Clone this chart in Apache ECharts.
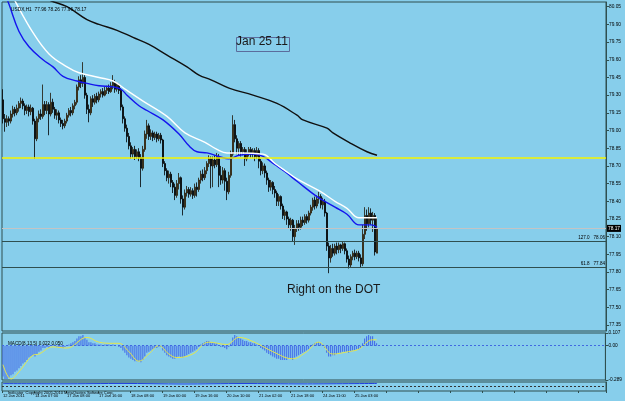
<!DOCTYPE html>
<html>
<head>
<meta charset="utf-8">
<script src="https://cdn.jsdelivr.net/npm/echarts@6/dist/echarts.min.js"></script>
<style>
  html, body { margin: 0; padding: 0; background: #87ceeb; }
  #chart { width: 625px; height: 401px; }
</style>
</head>
<body>
<div id="chart"></div>
<script>
// time labels, one every 16 bars
const timeLabels = ["12 Jan 2011", "14 Jan 07:00", "17 Jan 08:00", "17 Jan 16:00", "18 Jan 08:00", "19 Jan 00:00",
    "19 Jan 16:00", "20 Jan 10:00", "21 Jan 02:00", "21 Jan 18:00", "24 Jan 11:00", "25 Jan 03:00"];
const slotCount = 302;

const priceTicks = [80.05, 79.90, 79.75, 79.60, 79.45, 79.30, 79.15, 79.00, 78.85, 78.70,
    78.55, 78.40, 78.25, 78.10, 77.95, 77.80, 77.65, 77.50, 77.35];
const macdTicks = [0.107, 0, -0.289];
const macdTickText = ["0.107", "0.00", "-0.289"];

// [open, close, low, high]
const candles = [
    [79.26, 79.10, 79.06, 79.35], [79.10, 79.07, 78.99, 79.14], [79.07, 79.10, 79.03, 79.13], [79.10, 79.08, 79.04, 79.12],
    [79.08, 79.14, 79.06, 79.17], [79.14, 79.18, 79.11, 79.21], [79.18, 79.15, 79.12, 79.20], [79.15, 79.19, 79.13, 79.22],
    [79.19, 79.23, 79.16, 79.25], [79.23, 79.25, 79.19, 79.28], [79.25, 79.21, 79.18, 79.27], [79.21, 79.17, 79.13, 79.23],
    [79.17, 79.20, 79.14, 79.22], [79.20, 79.16, 79.12, 79.22], [79.16, 79.19, 79.13, 79.22], [79.19, 79.08, 79.05, 79.20],
    [79.08, 78.93, 78.76, 79.10], [78.93, 79.10, 78.91, 79.12], [79.10, 79.14, 79.07, 79.17], [79.14, 79.12, 79.09, 79.18],
    [79.12, 79.22, 79.10, 79.39], [79.22, 79.17, 79.13, 79.25], [79.17, 79.22, 79.14, 79.25], [79.22, 79.14, 78.96, 79.24],
    [79.14, 79.24, 79.12, 79.32], [79.24, 79.18, 79.15, 79.27], [79.18, 79.13, 79.10, 79.20], [79.13, 79.15, 79.09, 79.18],
    [79.15, 79.09, 79.06, 79.17], [79.09, 79.06, 79.03, 79.11], [79.06, 79.04, 79.01, 79.09], [79.04, 79.08, 79.02, 79.10],
    [79.08, 79.13, 79.06, 79.15], [79.13, 79.17, 79.11, 79.19], [79.17, 79.15, 79.12, 79.20], [79.15, 79.21, 79.13, 79.23],
    [79.21, 79.24, 79.18, 79.26], [79.24, 79.37, 79.22, 79.39], [79.37, 79.43, 79.34, 79.46], [79.43, 79.40, 79.36, 79.47],
    [79.40, 79.45, 79.37, 79.58], [79.45, 79.30, 79.27, 79.47], [79.30, 79.18, 79.14, 79.32], [79.18, 79.15, 79.07, 79.22],
    [79.15, 79.27, 79.13, 79.29], [79.27, 79.24, 79.20, 79.30], [79.24, 79.29, 79.22, 79.31], [79.29, 79.26, 79.23, 79.32],
    [79.26, 79.31, 79.24, 79.33], [79.31, 79.33, 79.28, 79.35], [79.33, 79.30, 79.28, 79.36], [79.30, 79.34, 79.29, 79.37],
    [79.34, 79.36, 79.31, 79.38], [79.36, 79.33, 79.31, 79.39], [79.33, 79.38, 79.32, 79.41], [79.38, 79.41, 79.35, 79.47],
    [79.41, 79.35, 79.32, 79.43], [79.35, 79.39, 79.33, 79.41], [79.39, 79.34, 79.31, 79.40], [79.34, 79.20, 79.17, 79.36],
    [79.20, 79.10, 79.06, 79.22], [79.10, 79.02, 78.99, 79.12], [79.02, 78.95, 78.90, 79.05], [78.95, 78.87, 78.84, 78.98],
    [78.87, 78.80, 78.76, 78.90], [78.80, 78.84, 78.77, 78.86], [78.84, 78.78, 78.75, 78.87], [78.78, 78.82, 78.76, 78.84],
    [78.82, 78.77, 78.74, 78.85], [78.77, 78.68, 78.52, 78.80], [78.68, 78.84, 78.66, 78.87], [78.84, 78.97, 78.82, 79.00],
    [78.97, 79.04, 78.93, 79.09], [79.04, 78.95, 78.92, 79.06], [78.95, 78.98, 78.92, 79.01], [78.98, 78.94, 78.91, 79.00],
    [78.94, 78.97, 78.92, 78.99], [78.97, 78.93, 78.90, 78.99], [78.93, 78.96, 78.91, 78.98], [78.96, 78.92, 78.89, 78.98],
    [78.92, 78.72, 78.69, 78.93], [78.72, 78.66, 78.62, 78.74], [78.66, 78.60, 78.57, 78.68], [78.60, 78.63, 78.55, 78.66],
    [78.63, 78.56, 78.52, 78.65], [78.56, 78.52, 78.47, 78.58], [78.52, 78.45, 78.41, 78.55], [78.45, 78.55, 78.43, 78.58],
    [78.55, 78.60, 78.50, 78.64], [78.60, 78.42, 78.38, 78.61], [78.42, 78.35, 78.28, 78.45], [78.35, 78.47, 78.33, 78.50],
    [78.47, 78.50, 78.44, 78.53], [78.50, 78.46, 78.43, 78.52], [78.46, 78.49, 78.44, 78.52], [78.49, 78.45, 78.42, 78.51],
    [78.45, 78.52, 78.43, 78.55], [78.52, 78.50, 78.44, 78.56], [78.50, 78.58, 78.48, 78.60], [78.58, 78.63, 78.55, 78.66],
    [78.63, 78.60, 78.57, 78.67], [78.60, 78.66, 78.58, 78.69], [78.66, 78.72, 78.63, 78.74], [78.72, 78.76, 78.69, 78.79],
    [78.76, 78.70, 78.51, 78.78], [78.70, 78.75, 78.52, 78.78], [78.75, 78.71, 78.68, 78.79], [78.71, 78.78, 78.69, 78.81],
    [78.78, 78.62, 78.52, 78.80], [78.62, 78.58, 78.54, 78.70], [78.58, 78.66, 78.55, 78.69], [78.66, 78.57, 78.49, 78.68],
    [78.57, 78.48, 78.41, 78.60], [78.48, 78.62, 78.46, 78.65], [78.62, 78.80, 78.60, 78.83], [78.80, 79.05, 78.78, 79.13],
    [79.05, 78.93, 78.90, 79.09], [78.93, 78.85, 78.80, 78.96], [78.85, 78.89, 78.79, 78.91], [78.89, 78.82, 78.78, 78.91],
    [78.82, 78.84, 78.79, 78.86], [78.84, 78.76, 78.70, 78.86], [78.76, 78.81, 78.74, 78.84], [78.81, 78.84, 78.78, 78.86],
    [78.84, 78.80, 78.77, 78.86], [78.80, 78.83, 78.77, 78.85], [78.83, 78.78, 78.74, 78.85], [78.78, 78.83, 78.76, 78.86],
    [78.83, 78.74, 78.68, 78.85], [78.74, 78.66, 78.62, 78.76], [78.66, 78.70, 78.63, 78.73], [78.70, 78.64, 78.60, 78.72],
    [78.64, 78.58, 78.54, 78.66], [78.58, 78.52, 78.48, 78.60], [78.52, 78.56, 78.49, 78.58], [78.56, 78.50, 78.46, 78.57],
    [78.50, 78.47, 78.43, 78.53], [78.47, 78.40, 78.36, 78.49], [78.40, 78.44, 78.36, 78.46], [78.44, 78.36, 78.33, 78.45],
    [78.36, 78.28, 78.25, 78.38], [78.28, 78.31, 78.24, 78.33], [78.31, 78.25, 78.20, 78.32], [78.25, 78.20, 78.17, 78.27],
    [78.20, 78.24, 78.15, 78.26], [78.24, 78.10, 78.06, 78.25], [78.10, 78.17, 78.03, 78.20], [78.17, 78.21, 78.14, 78.24],
    [78.21, 78.18, 78.15, 78.24], [78.18, 78.24, 78.16, 78.27], [78.24, 78.22, 78.19, 78.27], [78.22, 78.27, 78.20, 78.29],
    [78.27, 78.24, 78.21, 78.29], [78.24, 78.30, 78.22, 78.32], [78.30, 78.35, 78.28, 78.37], [78.35, 78.41, 78.32, 78.43],
    [78.41, 78.36, 78.33, 78.44], [78.36, 78.42, 78.34, 78.45], [78.42, 78.44, 78.38, 78.48], [78.44, 78.37, 78.34, 78.46],
    [78.37, 78.40, 78.33, 78.43], [78.40, 78.30, 78.27, 78.42], [78.30, 78.02, 77.98, 78.31], [78.02, 77.92, 77.79, 78.05],
    [77.92, 78.00, 77.88, 78.03], [78.00, 77.96, 77.93, 78.04], [77.96, 78.02, 77.94, 78.04], [78.02, 77.99, 77.95, 78.05],
    [77.99, 78.03, 77.96, 78.05], [78.03, 78.00, 77.96, 78.04], [78.00, 78.04, 77.98, 78.06], [78.04, 77.98, 77.95, 78.05],
    [77.98, 77.91, 77.88, 78.00], [77.91, 77.86, 77.83, 77.94], [77.86, 77.93, 77.84, 77.95], [77.93, 77.96, 77.90, 77.98],
    [77.96, 77.93, 77.90, 77.99], [77.93, 77.96, 77.91, 77.98], [77.96, 77.92, 77.89, 77.98], [77.92, 77.87, 77.84, 77.95],
    [77.87, 78.12, 77.85, 78.20], [78.12, 78.28, 78.08, 78.35], [78.28, 78.21, 78.15, 78.33], [78.21, 78.30, 78.18, 78.35],
    [78.30, 78.24, 78.20, 78.34], [78.24, 78.28, 78.14, 78.31], [78.28, 77.97, 77.94, 78.30], [77.96, 78.17, 77.96, 78.26]
];

// moving averages, [bar index, value] read at points along each curve
const slowMa = [[0, 80.40], [12, 80.22], [18, 80.15], [24, 80.10], [32, 80.05], [42, 79.94], [48, 79.90], [57, 79.85],
    [65, 79.79], [73, 79.73], [82, 79.64], [92, 79.54], [98, 79.47], [104, 79.43], [113, 79.36], [125, 79.30],
    [137, 79.23], [147, 79.13], [150, 79.09], [162, 79.02], [165, 78.98], [173, 78.90], [182, 78.82], [187, 78.79]];
const blueMa = [[0, 80.20], [3, 80.07], [8, 79.84], [13, 79.71], [20, 79.60], [25, 79.54], [30, 79.46], [37, 79.42],
    [42, 79.40], [48, 79.38], [55, 79.37], [59, 79.35], [62, 79.30], [68, 79.21], [72, 79.17], [80, 79.09],
    [88, 78.97], [93, 78.87], [97, 78.82], [102, 78.81], [108, 78.78], [113, 78.76], [118, 78.79], [125, 78.80],
    [130, 78.78], [136, 78.71], [141, 78.65], [147, 78.57], [157, 78.44], [166, 78.35], [172, 78.29], [178, 78.20],
    [184, 78.20], [187, 78.18]];
const whiteMa = [[0, 80.30], [6, 80.10], [15, 79.83], [23, 79.65], [32, 79.54], [38, 79.49], [48, 79.45], [55, 79.42],
    [62, 79.34], [70, 79.25], [82, 79.12], [91, 78.98], [101, 78.90], [107, 78.84], [112, 78.81], [118, 78.81],
    [130, 78.80], [136, 78.72], [141, 78.66], [147, 78.59], [158, 78.49], [166, 78.40], [172, 78.34], [178, 78.26],
    [187, 78.26]];

const yellowLevel = 78.77;
const bidPrice = 78.17;
const fiboLevels = [78.06, 77.84];
const fiboNames = ["127.0", "61.8"];

const macdHist = [
    -0.26, -0.28, -0.28, -0.27, -0.25, -0.24, -0.22, -0.21, -0.19, -0.17, -0.15, -0.14, -0.12, -0.10, -0.09, -0.08,
    -0.09, -0.07, -0.05, -0.04, -0.02, -0.02, -0.01, -0.02, 0.00, 0.01, 0.00, -0.01, -0.01, -0.02, -0.02, -0.01,
    0.00, 0.01, 0.02, 0.03, 0.04, 0.06, 0.08, 0.08, 0.09, 0.07, 0.05, 0.03, 0.03, 0.02, 0.02, 0.01,
    0.01, 0.01, 0.00, 0.01, 0.01, 0.01, 0.00, 0.01, 0.00, 0.00, -0.01, -0.02, -0.04, -0.06, -0.08, -0.10,
    -0.11, -0.12, -0.13, -0.13, -0.13, -0.14, -0.12, -0.09, -0.06, -0.05, -0.04, -0.03, -0.02, -0.02, -0.01, -0.01,
    -0.04, -0.06, -0.08, -0.09, -0.10, -0.11, -0.11, -0.10, -0.09, -0.10, -0.10, -0.09, -0.08, -0.07, -0.06, -0.05,
    -0.04, -0.03, -0.01, 0.01, 0.02, 0.03, 0.04, 0.04, 0.03, 0.03, 0.02, 0.02, 0.00, -0.01, -0.01, -0.02,
    -0.03, -0.01, 0.02, 0.07, 0.09, 0.08, 0.07, 0.06, 0.05, 0.04, 0.04, 0.03, 0.03, 0.02, 0.02, 0.01,
    0.00, -0.02, -0.03, -0.04, -0.06, -0.07, -0.08, -0.09, -0.10, -0.11, -0.11, -0.12, -0.12, -0.12, -0.12, -0.11,
    -0.11, -0.12, -0.10, -0.09, -0.08, -0.07, -0.06, -0.05, -0.04, -0.03, -0.01, 0.01, 0.02, 0.03, 0.03, 0.02,
    0.01, -0.02, -0.06, -0.09, -0.09, -0.08, -0.08, -0.07, -0.06, -0.06, -0.05, -0.05, -0.05, -0.06, -0.05, -0.04,
    -0.04, -0.03, -0.03, -0.02, 0.02, 0.06, 0.08, 0.09, 0.08, 0.08, 0.04, 0.02
];
const macdSignal = [[0, -0.16], [4, -0.28], [8, -0.22], [15, -0.08], [18, -0.07], [25, -0.01], [32, -0.02], [42, 0.07],
    [48, 0.03], [55, 0.02], [58, 0.02], [63, -0.05], [68, -0.13], [73, -0.07], [78, 0.00], [83, -0.07],
    [87, -0.10], [95, -0.07], [103, 0.03], [112, 0.01], [118, 0.07], [127, 0.02], [135, -0.05], [145, -0.11],
    [152, -0.05], [158, 0.03], [165, -0.07], [173, -0.05], [178, -0.03], [185, 0.05], [187, 0.05]];

const subLine = [[0, 82], [30, 80], [60, 84], [90, 78], [120, 83], [150, 79], [187, 84]];

const chart = echarts.init(document.getElementById("chart"));
const frame = "#2f4f4f";
const font = "Liberation Sans";
const cats = Array.from({ length: slotCount }, (_, i) => String(i));

function hiddenX(gridIndex) {
    return {
        type: "category", gridIndex: gridIndex, data: cats, boundaryGap: true,
        axisLine: { show: false }, axisTick: { show: false }, axisLabel: { show: false }, splitLine: { show: false }
    };
}

const option = {
    backgroundColor: "#87ceeb",
    animation: false,
    textStyle: { fontFamily: font },
    title: [
        { text: "USDX,H1  77.96 78.26 77.96 78.17", left: 6, top: 2, textStyle: { fontSize: 4.8, fontWeight: "normal", color: "#000" } },
        { text: "MACD(8,13,5) 0.022 0.050", left: 3, top: 336, textStyle: { fontSize: 4.6, fontWeight: "normal", color: "#000" } },
        { text: "Indicator  Copyright 2005-2010 MetaQuotes Software Corp.", left: 3, top: 385.5, textStyle: { fontSize: 4, fontWeight: "normal", color: "#000" } }
    ],
    grid: [
        { left: 2, right: 19, top: 2, height: 329, show: true, borderColor: frame, borderWidth: 1 },
        { left: 2, right: 19, top: 333, height: 47, show: true, borderColor: frame, borderWidth: 1 },
        { left: 2, right: 19, top: 382, height: 9, show: true, borderColor: frame, borderWidth: 1 }
    ],
    xAxis: [
        hiddenX(0),
        hiddenX(1),
        {
            type: "category", gridIndex: 2, data: cats, boundaryGap: true,
            axisLine: { show: false },
            axisTick: { show: true, interval: 15, length: 2, lineStyle: { color: frame } },
            axisLabel: {
                interval: 15, align: "left", margin: 3, fontSize: 4, color: "#000",
                formatter: (v, i) => (i % 16 === 0 && timeLabels[i / 16]) ? timeLabels[i / 16] : ""
            },
            splitLine: { show: false }
        }
    ],
    yAxis: [
        {
            type: "value", gridIndex: 0, position: "right", min: 77.30, max: 80.09, splitLine: { show: false },
            axisLine: { show: true, lineStyle: { color: frame } },
            axisTick: { show: true, customValues: priceTicks, length: 3, lineStyle: { color: frame } },
            axisLabel: { customValues: priceTicks, formatter: v => v.toFixed(2), fontSize: 4.8, margin: 3, color: "#000" }
        },
        {
            type: "value", gridIndex: 1, position: "right", min: -0.289, max: 0.107, splitLine: { show: false },
            axisLine: { show: true, lineStyle: { color: frame } },
            axisTick: { show: true, customValues: macdTicks, length: 3, lineStyle: { color: frame } },
            axisLabel: {
                customValues: macdTicks, fontSize: 4.8, margin: 3, color: "#000",
                formatter: v => macdTickText[macdTicks.findIndex(t => Math.abs(t - v) < 1e-6)] || ""
            }
        },
        {
            type: "value", gridIndex: 2, position: "right", min: 0, max: 100, splitLine: { show: false },
            axisLine: { show: true, lineStyle: { color: frame } },
            axisTick: { show: false }, axisLabel: { show: false }
        }
    ],
    series: [
        {
            name: "USDX", type: "candlestick", xAxisIndex: 0, yAxisIndex: 0, data: candles, barWidth: 2,
            itemStyle: { color: "#b07d28", color0: "#000000", borderColor: "#201404", borderColor0: "#000000", borderWidth: 0.8 },
            markLine: {
                silent: true, symbol: ["none", "none"],
                data: [
                    { yAxis: yellowLevel, lineStyle: { color: "#f5f500", width: 1.6, type: "solid", opacity: 1 }, label: { show: false } },
                    {
                        yAxis: bidPrice, lineStyle: { color: "#c4c4c4", width: 1, type: "solid" },
                        label: {
                            show: true, position: "end", formatter: bidPrice.toFixed(2), fontSize: 4.8, color: "#fff",
                            backgroundColor: "#000", padding: [1, 1], distance: 1
                        }
                    },
                    ...fiboLevels.map((v, k) => ({
                        yAxis: v, lineStyle: { color: frame, width: 1, type: "solid" },
                        label: {
                            show: true, position: "insideEndTop", formatter: fiboNames[k] + "   " + v.toFixed(2),
                            fontSize: 4.6, color: "#000", distance: 1
                        }
                    }))
                ]
            }
        },
        {
            name: "MA slow", type: "line", xAxisIndex: 0, yAxisIndex: 0, data: slowMa, smooth: 0.4, showSymbol: false,
            lineStyle: { color: "#101010", width: 1.4 }
        },
        {
            name: "MA blue", type: "line", xAxisIndex: 0, yAxisIndex: 0, data: blueMa, smooth: 0.4, showSymbol: false,
            lineStyle: { color: "#1414ee", width: 1.4 }
        },
        {
            name: "MA white", type: "line", xAxisIndex: 0, yAxisIndex: 0, data: whiteMa, smooth: 0.4, showSymbol: false,
            lineStyle: { color: "#ffffff", width: 1.4 }
        },
        {
            name: "MACD", type: "bar", xAxisIndex: 1, yAxisIndex: 1, data: macdHist, barWidth: 1,
            itemStyle: { color: "#3f63e8" },
            markLine: {
                silent: true, symbol: ["none", "none"], label: { show: false },
                lineStyle: { color: "#4169e1", type: [2, 2], width: 1 },
                data: [{ yAxis: 0 }]
            }
        },
        {
            name: "Signal", type: "line", xAxisIndex: 1, yAxisIndex: 1, data: macdSignal, smooth: 0.4, showSymbol: false,
            lineStyle: { color: "#e6e64a", width: 1 }
        },
        {
            name: "Sub", type: "line", xAxisIndex: 2, yAxisIndex: 2, data: subLine, smooth: 0.3, showSymbol: false,
            lineStyle: { color: "#2040e0", width: 1 },
            markLine: {
                silent: true, symbol: ["none", "none"], label: { show: false },
                lineStyle: { color: "#333", type: [2, 2], width: 1 },
                data: [{ yAxis: 50 }]
            }
        }
    ],
    graphic: [
        { type: "rect", left: 234, top: 35, shape: { width: 53, height: 14 }, style: { fill: "none", stroke: "#5b6c9c", lineWidth: 1 } },
        { type: "text", left: 236, top: 36, style: { text: "Jan 25 11", font: "12px " + font, fill: "#1a1a1a" } },
        { type: "text", left: 287, top: 284, style: { text: "Right on the DOT", font: "12px " + font, fill: "#1a1a1a" } }
    ]
};

chart.setOption(option);
</script>
</body>
</html>
